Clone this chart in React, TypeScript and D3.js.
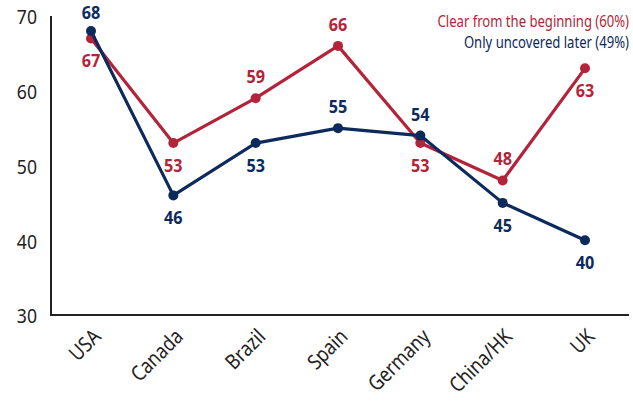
import React from "react";
import * as d3 from "d3";

const categories = ["USA", "Canada", "Brazil", "Spain", "Germany", "China/HK", "UK"];
const clearValues = [67, 53, 59, 66, 53, 48, 63];
const laterValues = [68, 46, 53, 55, 54, 45, 40];
const clearLabelPos = ["below", "below", "above", "above", "below", "above", "below"];
const laterLabelPos = ["above", "below", "below", "above", "above", "below", "below"];
const yTicks = [30, 40, 50, 60, 70];
const legendLabels = ["Clear from the beginning (60%)", "Only uncovered later (49%)"];

const RED = "#b3243a";
const NAVY = "#0c2a5c";
const FONT = "'Noto Sans', 'Open Sans', sans-serif";

function T(props: {
  x: number; y: number; rot?: number; sx: number; anchor: string; size: number; fill: string; weight?: string; children: any;
}) {
  const { x, y, rot, sx, anchor, size, fill, weight, children } = props;
  return (
    <text
      transform={`translate(${x},${y})${rot ? ` rotate(${rot})` : ""} scale(${sx},1)`}
      textAnchor={anchor}
      dominantBaseline="middle"
      fontSize={size}
      fontWeight={weight || "normal"}
      fill={fill}
    >
      {children}
    </text>
  );
}

export default function App() {
  const W = 633, H = 401;
  const x = d3.scalePoint<string>().domain(categories).range([91, 585]);
  const y = d3.scaleLinear().domain([30, 70]).range([315, 16]);
  const line = d3.line<number>().x((_, i) => x(categories[i])!).y((d) => y(d));

  const series = [
    { values: clearValues, color: RED, pos: clearLabelPos },
    { values: laterValues, color: NAVY, pos: laterLabelPos },
  ];

  return (
    <div style={{ position: "absolute", left: 0, top: 0 }}>
      <svg width={W} height={H} style={{ display: "block", background: "#fff" }} fontFamily={FONT}>
        <line x1={51} x2={51} y1={16} y2={315} stroke="#222" strokeWidth={2} />
        <line x1={50} x2={629} y1={315} y2={315} stroke="#222" strokeWidth={2} />
        {yTicks.map((t) => (
          <T key={t} x={37} y={y(t) + 3} sx={0.88} anchor="end" size={20} fill="#222">
            {t}
          </T>
        ))}
        {categories.map((c) => (
          <T key={c} x={x(c)! + 7} y={334} rot={-45} sx={0.85} anchor="end" size={21} fill="#222">
            {c}
          </T>
        ))}
        {series.map((s, si) => (
          <g key={si}>
            <path d={line(s.values)!} fill="none" stroke={s.color} strokeWidth={3.2} strokeLinejoin="round" />
            {s.values.map((v, i) => (
              <circle key={i} cx={x(categories[i])!} cy={y(v)} r={5} fill={s.color} />
            ))}
            {s.values.map((v, i) => (
              <T
                key={"l" + i}
                x={x(categories[i])!}
                y={Math.max(14, y(v) + (s.pos[i] === "above" ? -20 : 24))}
                sx={0.9}
                anchor="middle"
                size={18}
                weight="bold"
                fill={s.color}
              >
                {v}
              </T>
            ))}
          </g>
        ))}
        {legendLabels.map((l, i) => (
          <T key={l} x={629} y={22 + i * 21} sx={0.77} anchor="end" size={17} fill={i === 0 ? RED : NAVY}>
            {l}
          </T>
        ))}
      </svg>
    </div>
  );
}
